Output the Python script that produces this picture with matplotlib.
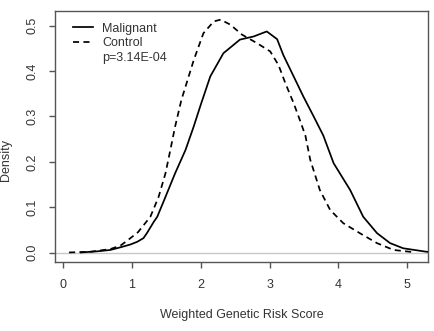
import matplotlib
matplotlib.use("Agg")
import matplotlib.pyplot as plt
from matplotlib.lines import Line2D

plt.rcParams['font.family'] = ['Liberation Sans', 'DejaVu Sans']

# density curves
ctrl_x = [0.09, 0.40, 0.69, 0.84, 0.93, 1.09, 1.27, 1.39, 1.49, 1.56, 1.63, 1.72,
          1.90, 2.04, 2.19, 2.29, 2.43, 2.60, 2.82, 3.01, 3.13, 3.23, 3.35, 3.44,
          3.52, 3.59, 3.73, 3.88, 4.07, 4.31, 4.56, 4.80, 5.04, 5.10]
ctrl_y = [0.0005, 0.002, 0.008, 0.016, 0.026, 0.045, 0.079, 0.123, 0.175, 0.226,
          0.278, 0.336, 0.424, 0.483, 0.509, 0.513, 0.502, 0.480, 0.461, 0.443,
          0.413, 0.373, 0.329, 0.292, 0.258, 0.205, 0.138, 0.094, 0.065, 0.043,
          0.021, 0.006, 0.002, 0.001]

mal_x = [0.26, 0.50, 0.69, 0.84, 0.98, 1.08, 1.17, 1.22, 1.32, 1.37, 1.49, 1.63,
         1.78, 1.90, 2.00, 2.14, 2.33, 2.57, 2.77, 2.96, 3.11, 3.20, 3.35, 3.49,
         3.64, 3.78, 3.93, 4.17, 4.36, 4.56, 4.75, 4.94, 5.28, 5.45]
mal_y = [0.0005, 0.003, 0.006, 0.012, 0.018, 0.024, 0.032, 0.043, 0.068, 0.079,
         0.123, 0.175, 0.226, 0.278, 0.325, 0.388, 0.439, 0.469, 0.476, 0.487,
         0.470, 0.435, 0.388, 0.344, 0.300, 0.258, 0.197, 0.138, 0.079, 0.043,
         0.021, 0.0097, 0.002, 0.001]

x_ticks = [0, 1, 2, 3, 4, 5]
y_ticks = [0.0, 0.1, 0.2, 0.3, 0.4, 0.5]
legend_labels = ['Malignant', 'Control', 'p=3.14E-04']

txt = '#333333'
edge = '#555555'

fig = plt.figure(figsize=(4.35, 3.31), dpi=100)
ax = fig.add_axes([55 / 435, 1 - 262 / 331, 373 / 435, 251 / 331])

ax.axhline(0, color='#c8c8c8', lw=1.0, zorder=1)
ax.plot(mal_x, mal_y, color='black', lw=1.25, zorder=3)
ax.plot(ctrl_x, ctrl_y, color='black', lw=1.25, dashes=(3.5, 2.5), zorder=3)

ax.set_xlim(-0.114, 5.30)
ax.set_ylim(-0.0205, 0.532)
ax.set_xticks(x_ticks)
ax.set_xticklabels([str(v) for v in x_ticks])
ax.set_yticks(y_ticks)
ax.set_yticklabels(['%.1f' % v for v in y_ticks], rotation=90, va='center')

for s in ax.spines.values():
    s.set_color(edge)
    s.set_linewidth(1.0)
ax.tick_params(direction='out', length=4, width=1.0, color=edge,
               labelcolor=txt, labelsize=9, pad=8)

ax.set_xlabel('Weighted Genetic Risk Score', fontsize=9, color=txt, labelpad=13)
fig.text(6 / 435, 1 - 160 / 331, 'Density', rotation=90, fontsize=9, color=txt,
         ha='center', va='center')

handles = [Line2D([], [], color='black', lw=1.25),
           Line2D([], [], color='black', lw=1.25, dashes=(3.5, 2.5)),
           Line2D([], [], color='none')]
leg = ax.legend(handles, legend_labels, loc='upper left',
                bbox_to_anchor=(0.0475, 0.954), frameon=False, fontsize=9,
                handlelength=1.65, handletextpad=0.7, labelspacing=0.22,
                borderpad=0, borderaxespad=0)
for t in leg.get_texts():
    t.set_color(txt)

fig.savefig('out.png', dpi=100)
